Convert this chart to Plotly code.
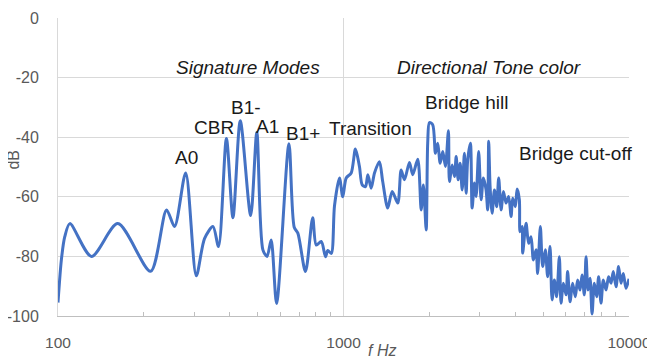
import plotly.graph_objects as go

freq_hz = [100, 102.8, 105.6, 110, 131, 162, 211, 240, 256, 280, 305, 326, 349, 365,
           389, 410, 435, 473, 497, 522, 540, 558, 583, 644, 672, 692, 736, 780, 803,
           836, 865, 881, 906, 930, 968, 994, 1022, 1064, 1101, 1137, 1163, 1194, 1217,
           1250, 1284, 1336, 1372, 1429, 1481, 1549, 1592, 1635, 1702, 1748, 1820, 1871,
           1905, 1948, 1972, 2000, 2053, 2099, 2138, 2181, 2227, 2275, 2331, 2350, 2402,
           2447, 2481, 2521, 2562, 2604, 2652, 2689, 2723, 2783, 2822, 2874, 2914, 2975,
           3034, 3090, 3158, 3199, 3225, 3262, 3315, 3378, 3440, 3496, 3565, 3631, 3711,
           3789, 3864, 3913, 3999, 4055, 4130, 4154, 4222, 4242, 4360, 4451, 4539, 4624,
           4726, 4786, 4892, 4983, 5093, 5188, 5290, 5377, 5477, 5578, 5702, 5781, 5888,
           6018, 6095, 6215, 6345, 6486, 6607, 6738, 6847, 6975, 7072, 7187, 7304, 7423,
           7561, 7702, 7827, 7980, 8128, 8308, 8482, 8650, 8810, 9006, 9194, 9376, 9550,
           9761, 10000]
level_db = [-95.5, -81, -73.4, -69, -80, -69, -85, -64.4, -70, -52, -86.5, -74, -70, -76.7,
            -40.4, -67, -34.5, -66.3, -38.4, -77.8, -80, -74.5, -95.8, -42.2, -70.2, -72.2,
            -85.1, -67, -76.2, -75, -80.1, -78, -79, -63, -53.7, -60, -53.7, -52, -44, -49.8,
            -56, -56.6, -52.6, -57.1, -52, -48.2, -54.9, -63.8, -58.2, -62.1, -51, -54.3,
            -48.5, -52.6, -47.4, -64.4, -56, -71.1, -42, -35.1, -35.8, -45.4, -42, -48.7,
            -44.8, -49.8, -37.8, -54.9, -49.3, -53.2, -46.5, -54.3, -48.7, -57.7, -45.4,
            -58.8, -47.6, -42, -63.8, -55.4, -59.9, -44.8, -61, -53.7, -57.7, -64.4, -41.4,
            -56.6, -65.5, -57.7, -63.3, -53.7, -64.4, -58.2, -62.1, -59.9, -66.6, -60.5,
            -63.3, -57.4, -61, -71.7, -70, -78.9, -68.9, -75.6, -73.4, -81.2, -77.8, -85.7,
            -70, -83.4, -77.8, -86.8, -76.7, -94.6, -87.9, -93.5, -80.1, -95.7, -89, -92.9,
            -85.1, -95.2, -89, -93.5, -87.9, -91.3, -86.2, -92.9, -80.1, -91.3, -87.3, -99.3,
            -89, -93.5, -86.8, -95.7, -87.9, -91.3, -86.8, -89, -85.1, -90.2, -83.4, -89,
            -85.7, -90.7, -87.5]

x_major = [100, 1000, 10000]
x_minor = [200, 300, 400, 500, 600, 700, 800, 900,
           2000, 3000, 4000, 5000, 6000, 7000, 8000, 9000]
y_ticks = [-100, -80, -60, -40, -20, 0]

mode_labels = ["A0", "CBR", "B1-", "A1", "B1+", "Transition", "Bridge hill", "Bridge cut-off"]
mode_pos = [(0.2248, 0.531), (0.2726, 0.632), (0.3286, 0.699), (0.3662, 0.635),
            (0.4284, 0.611), (0.5466, 0.628), (0.7155, 0.716), (0.9055, 0.544)]
region_labels = ["Signature Modes", "Directional Tone color"]
region_pos = [(0.332, 0.833), (0.754, 0.833)]

FONT = "Liberation Sans"
fig = go.Figure()
fig.add_trace(go.Scatter(x=freq_hz, y=level_db, mode="lines",
                         line=dict(color="#4472C4", width=3, shape="spline", smoothing=0.8),
                         showlegend=False, hoverinfo="skip"))

for t, (px, py) in zip(mode_labels, mode_pos):
    fig.add_annotation(x=px, y=py, xref="paper", yref="paper", text=t, showarrow=False,
                       xanchor="center", yanchor="middle",
                       font=dict(family=FONT, size=19, color="#1a1a1a"))
for t, (px, py) in zip(region_labels, region_pos):
    fig.add_annotation(x=px, y=py, xref="paper", yref="paper", text="<i>" + t + "</i>",
                       showarrow=False, xanchor="center", yanchor="middle",
                       font=dict(family=FONT, size=19, color="#1a1a1a"))

fig.add_annotation(x=0.5667, y=-0.115, xref="paper", yref="paper", text="<i>f Hz</i>",
                   showarrow=False, xanchor="center", yanchor="middle",
                   font=dict(family=FONT, size=16, color="#595959"))
fig.add_annotation(x=-0.0776, y=0.524, xref="paper", yref="paper", text="dB", textangle=-90,
                   showarrow=False, xanchor="center", yanchor="middle",
                   font=dict(family=FONT, size=16, color="#595959"))

fig.update_layout(
    width=647, height=350,
    margin=dict(l=50, r=26, t=10, b=42),
    paper_bgcolor="white", plot_bgcolor="white",
    font=dict(family=FONT, size=16, color="#595959"),
    xaxis=dict(type="log", range=[2, 4], tickvals=x_major, ticktext=[str(v) for v in x_major],
               showgrid=True, gridcolor="#d9d9d9", gridwidth=1, automargin=False,
               showline=True, linecolor="#bfbfbf", linewidth=1, mirror=False,
               ticks="", ticklabelstandoff=12, zeroline=False, tickfont=dict(size=15.5),
               minor=dict(tickvals=x_minor, ticks="inside", ticklen=4, tickcolor="#bfbfbf",
                          showgrid=False)),
    yaxis=dict(range=[-100, 0], tickvals=y_ticks, ticktext=[str(v) for v in y_ticks],
               showgrid=True, gridcolor="#d9d9d9", automargin=False,
               gridwidth=1, showline=True, linecolor="#d9d9d9", linewidth=1,
               ticks="", ticklabelstandoff=15, zeroline=False),
)

fig.write_html("out.html")
